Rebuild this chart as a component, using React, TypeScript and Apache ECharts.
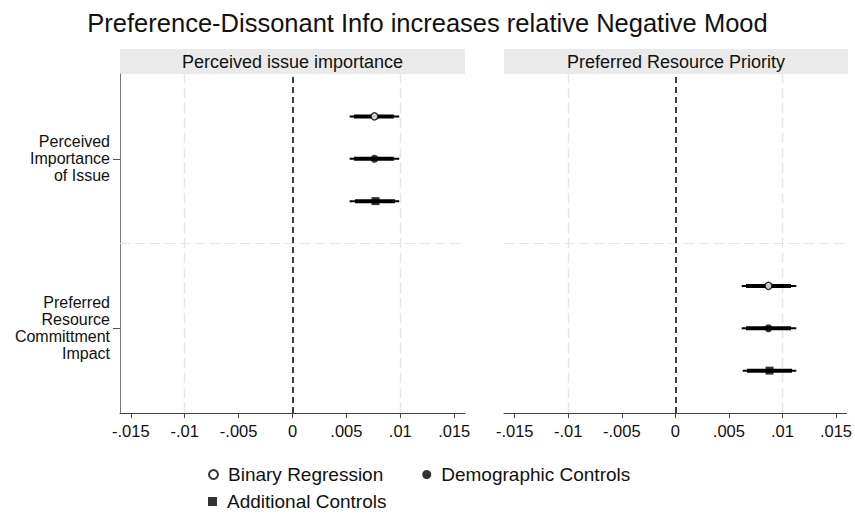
import React, { useEffect, useRef } from "react";
import * as echarts from "echarts";

const titleText = "Preference-Dissonant Info increases relative Negative Mood";
const panelTitles = ["Perceived issue importance", "Preferred Resource Priority"];
const categories = ["Perceived\nImportance\nof Issue", "Preferred\nResource\nCommittment\nImpact"];
const models = ["Binary Regression", "Demographic Controls", "Additional Controls"];
const xTicks = [-0.015, -0.01, -0.005, 0, 0.005, 0.01, 0.015];

// category (row) holding the estimates of each panel
const panelCategory = [0, 1];

// left panel: Perceived issue importance
const estLeft = [0.0076, 0.0076, 0.0077];
const ci95LowLeft = [0.0053, 0.0053, 0.0053];
const ci95HighLeft = [0.0099, 0.0099, 0.0099];
const ci90LowLeft = [0.0057, 0.0057, 0.0058];
const ci90HighLeft = [0.0094, 0.0094, 0.0095];

// right panel: Preferred Resource Priority
const estRight = [0.0087, 0.0087, 0.0088];
const ci95LowRight = [0.0062, 0.0062, 0.0063];
const ci95HighRight = [0.0113, 0.0113, 0.0113];
const ci90LowRight = [0.0066, 0.0066, 0.0067];
const ci90HighRight = [0.0108, 0.0108, 0.0109];

const FONT = "'Liberation Sans', Arial, sans-serif";

const panels = [
  { est: estLeft, lo95: ci95LowLeft, hi95: ci95HighLeft, lo90: ci90LowLeft, hi90: ci90HighLeft },
  { est: estRight, lo95: ci95LowRight, hi95: ci95HighRight, lo90: ci90LowRight, hi90: ci90HighRight },
];

const yPos = (cat: number, model: number) =>
  categories.length - 1 - cat + 0.5 + (1 - model) * 0.25;

const fmtTick = (v: number) => {
  const s = String(Number(v.toFixed(3)));
  return s.replace(/^(-?)0\./, "$1.");
};

export default function App() {
  const ref = useRef<HTMLDivElement>(null);
  useEffect(() => {
    if (!ref.current) return;
    const chart = echarts.init(ref.current, null, { renderer: "svg" });

    const grids = [
      { left: 120, top: 74, width: 345, height: 339 },
      { left: 504, top: 74, width: 344, height: 339 },
    ];

    const xAxis = grids.map((_, i) => ({
      type: "value",
      gridIndex: i,
      min: -0.016,
      max: 0.016,
      axisLine: { show: true, onZero: false, lineStyle: { color: "#444", width: 1 } },
      axisTick: { show: true, customValues: xTicks, length: 5, lineStyle: { color: "#444" } },
      axisLabel: {
        customValues: xTicks,
        formatter: (v: number) => fmtTick(v),
        fontSize: 16.5,
        color: "#111",
        fontFamily: FONT,
        margin: 9,
      },
      splitLine: { show: false },
    }));

    const yAxis = grids.map((_, i) => ({
      type: "value",
      gridIndex: i,
      min: 0,
      max: 2,
      axisLine: { show: i === 0, onZero: false, lineStyle: { color: "#777", width: 1 } },
      axisTick: {
        show: i === 0,
        customValues: [0.5, 1.5],
        length: 7,
        lineStyle: { color: "#555" },
      },
      axisLabel: {
        show: i === 0,
        customValues: [0.5, 1.5],
        formatter: (v: number) => {
          const idx = categories.length - 1 - Math.floor(v);
          return categories[idx] ?? "";
        },
        fontSize: 16,
        lineHeight: 17,
        align: "right",
        color: "#111",
        fontFamily: FONT,
        margin: 10,
      },
      splitLine: { show: false },
    }));

    const series: any[] = [];
    panels.forEach((p, pi) => {
      const cat = panelCategory[pi];
      const ciData = models.map((_, m) => [p.lo95[m], p.hi95[m], p.lo90[m], p.hi90[m], yPos(cat, m)]);
      const gridMarks: any[] = xTicks.map((t) => ({
        xAxis: t,
        lineStyle:
          t === 0
            ? { color: "#000", width: 1.5, type: [6, 4] }
            : { color: "#e6e6e6", width: 1.2, type: [10, 5] },
      }));
      gridMarks.push({ yAxis: 1, lineStyle: { color: "#e6e6e6", width: 1.2, type: [10, 5] } });
      series.push({
        type: "custom",
        name: "CI" + pi,
        xAxisIndex: pi,
        yAxisIndex: pi,
        z: 2,
        silent: true,
        encode: { x: [0, 1, 2, 3], y: 4 },
        data: ciData,
        renderItem: (params: any, api: any) => {
          const y = api.value(4);
          const a = api.coord([api.value(0), y]);
          const b = api.coord([api.value(1), y]);
          const c = api.coord([api.value(2), y]);
          const d = api.coord([api.value(3), y]);
          return {
            type: "group",
            children: [
              { type: "line", shape: { x1: a[0], y1: a[1], x2: b[0], y2: b[1] }, style: { stroke: "#000", lineWidth: 2 } },
              { type: "line", shape: { x1: c[0], y1: c[1], x2: d[0], y2: d[1] }, style: { stroke: "#000", lineWidth: 4 } },
            ],
          };
        },
        markLine: {
          z: 1,
          silent: true,
          symbol: ["none", "none"],
          label: { show: false },
          emphasis: { disabled: true },
          data: gridMarks,
        },
      });
      models.forEach((name, m) => {
        series.push({
          type: "scatter",
          name,
          xAxisIndex: pi,
          yAxisIndex: pi,
          z: 3,
          symbol: m === 2 ? "rect" : "circle",
          symbolSize: m === 0 ? 7 : 8,
          itemStyle:
            m === 0
              ? { color: "#fff", borderColor: "#000", borderWidth: 1.5 }
              : { color: "#000", borderColor: "#000", borderWidth: 0 },
          data: [[p.est[m], yPos(cat, m)]],
        });
      });
    });

    const legendBase = {
      orient: "horizontal",
      selectedMode: false,
      itemWidth: 9,
      itemHeight: 9,
      itemGap: 39,
      textStyle: { fontSize: 19, color: "#111", fontFamily: FONT, padding: [0, 0, 0, 5] },
    };

    const graphic: any[] = [];
    panelTitles.forEach((t, i) => {
      const g = grids[i];
      graphic.push({
        type: "rect",
        shape: { x: g.left, y: 49, width: g.width, height: 25 },
        style: { fill: "#eaeaea" },
        silent: true,
      });
      graphic.push({
        type: "text",
        x: g.left + g.width / 2,
        y: 62,
        style: {
          text: t,
          fill: "#111",
          fontSize: 18,
          fontFamily: FONT,
          align: "center",
          verticalAlign: "middle",
        },
        silent: true,
      });
    });

    chart.setOption({
      animation: false,
      backgroundColor: "#fff",
      title: {
        text: titleText,
        left: "center",
        top: 5,
        textStyle: { fontSize: 25.5, fontWeight: "normal", color: "#111", fontFamily: FONT },
      },
      grid: grids,
      xAxis,
      yAxis,
      legend: [
        {
          ...legendBase,
          left: 203,
          top: 460,
          data: [
            { name: models[0], icon: "circle" },
            { name: models[1], icon: "circle" },
          ],
        },
        {
          ...legendBase,
          left: 203,
          top: 487,
          data: [{ name: models[2], icon: "rect" }],
        },
      ],
      graphic,
      series,
    });
    return () => chart.dispose();
  }, []);
  return (
    <div
      ref={ref}
      style={{ position: "fixed", left: 0, top: 0, width: 855, height: 514, background: "#fff" }}
    />
  );
}
